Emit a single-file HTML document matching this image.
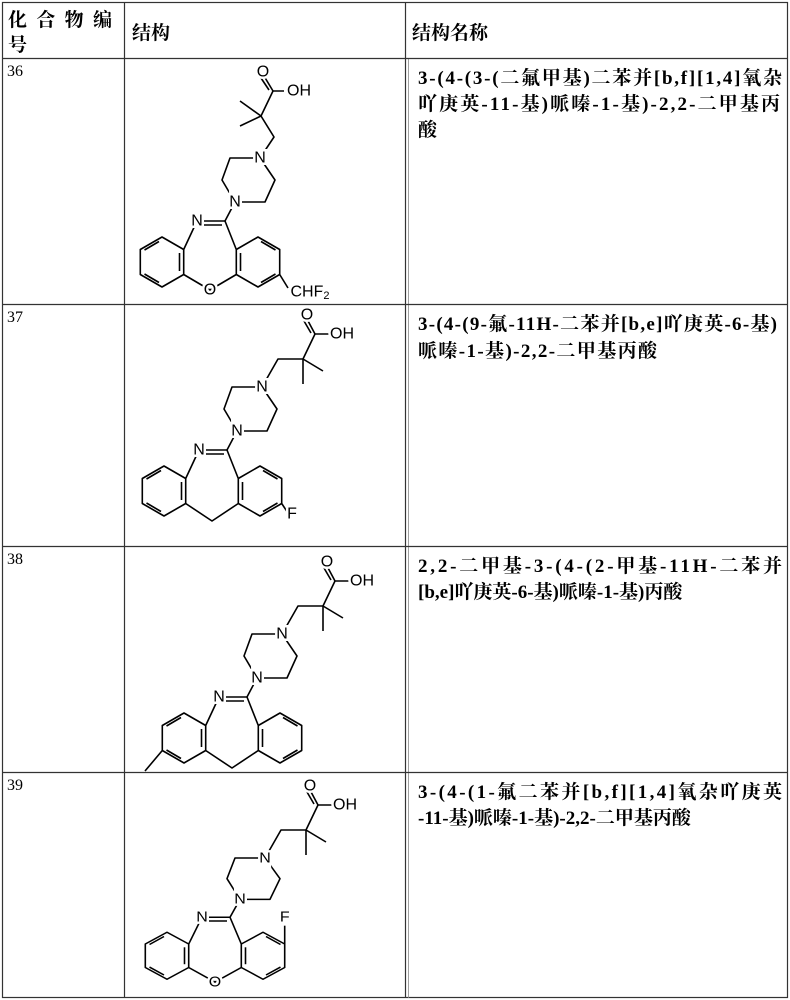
<!DOCTYPE html>
<html><head><meta charset="utf-8"><style>
html,body{margin:0;padding:0;background:#fff;}
svg{display:block}
.t{font-family:"Liberation Serif","Noto Serif CJK SC","Noto Sans CJK SC",serif;font-weight:bold;font-size:19px;fill:#000}
.n{font-family:"Liberation Serif",serif;font-size:16px;fill:#000}
.a{font-family:"Liberation Sans",sans-serif;font-size:16px;fill:#000;stroke:#fff;stroke-width:5px;paint-order:stroke;text-anchor:middle;dominant-baseline:central}
.b{stroke:#000;stroke-width:1.6;fill:none;stroke-linejoin:round}
</style></head><body>
<svg width="790" height="1000" viewBox="0 0 790 1000" xmlns="http://www.w3.org/2000/svg">
<defs>
<g id="pip">
<polyline class="b" points="0,0 -30,0 -38,22 -25,44 5,44 15,22 0,0"/>
<line class="b" x1="-25" y1="44" x2="-35" y2="63"/>
</g>
<g id="lring" transform="translate(-98,104)">
<polygon class="b" points="0,-25 21.7,-12.5 21.7,12.5 0,25 -21.7,12.5 -21.7,-12.5"/>
<line class="b" x1="17.5" y1="-9" x2="17.5" y2="9"/>
<line class="b" x1="-3" y1="20.5" x2="-17.5" y2="12"/>
<line class="b" x1="-17.5" y1="-12" x2="-3" y2="-20.5"/>
</g>
<g id="rring" transform="translate(-2,104)">
<polygon class="b" points="0,-25 21.7,-12.5 21.7,12.5 0,25 -21.7,12.5 -21.7,-12.5"/>
<line class="b" x1="-17.5" y1="-9" x2="-17.5" y2="9"/>
<line class="b" x1="3" y1="20.5" x2="17.5" y2="12"/>
<line class="b" x1="17.5" y1="-12" x2="3" y2="-20.5"/>
</g>
<g id="core">
<use href="#pip"/>
<line class="b" x1="-35" y1="63" x2="-63" y2="63"/>
<line class="b" x1="-38" y1="67" x2="-58" y2="67"/>
<line class="b" x1="-63" y1="63" x2="-76.3" y2="91.5"/>
<line class="b" x1="-35" y1="63" x2="-23.7" y2="91.5"/>
<use href="#lring"/><use href="#rring"/>
<text class="a" x="0" y="0">N</text>
<text class="a" x="-25" y="44">N</text>
<text class="a" x="-63" y="63">N</text>
</g>
<g id="obridge">
<polyline class="b" points="-76.3,116.5 -50,132 -23.7,116.5"/>
<text class="a" x="-50" y="132">O</text>
</g>
<g id="cbridge">
<polyline class="b" points="-76.3,116.5 -50,134 -23.7,116.5"/>
</g>
<g id="acidB">
<polyline class="b" points="0,0 16,-28 41,-28 53,-53 68,-53"/>
<line class="b" x1="41" y1="-28" x2="61" y2="-16"/>
<line class="b" x1="41" y1="-28" x2="41" y2="-3"/>
<line class="b" x1="53" y1="-53" x2="45" y2="-68"/>
<line class="b" x1="49" y1="-54" x2="42" y2="-66"/>
<text class="a" x="45" y="-72">O</text>
<text class="a" x="80" y="-53">OH</text>
</g>
</defs>

<!-- grid -->
<g stroke="#333" stroke-width="1.2" fill="none">
<rect x="2.5" y="2.5" width="785" height="995"/>
<line x1="124.5" y1="2" x2="124.5" y2="998"/>
<line x1="405.5" y1="2" x2="405.5" y2="998"/>
<line x1="408.5" y1="58" x2="408.5" y2="998" stroke="#888" stroke-width="0.8"/>
<line x1="2" y1="58.5" x2="788" y2="58.5"/>
<line x1="2" y1="304.5" x2="788" y2="304.5"/>
<line x1="2" y1="546.5" x2="788" y2="546.5"/>
<line x1="2" y1="772.5" x2="788" y2="772.5"/>
</g>

<!-- header -->
<text class="t" x="8" y="26" textLength="104">化合物编</text>
<text class="t" x="8" y="51">号</text>
<text class="t" x="132" y="39">结构</text>
<text class="t" x="412" y="39">结构名称</text>

<!-- numbers -->
<text class="n" x="7" y="76">36</text>
<text class="n" x="7" y="322">37</text>
<text class="n" x="7" y="564">38</text>
<text class="n" x="7" y="790">39</text>

<!-- names -->
<text class="t" x="418" y="84" textLength="364">3-(4-(3-(二氟甲基)二苯并[b,f][1,4]氧杂</text>
<text class="t" x="418" y="110" textLength="362">吖庚英-11-基)哌嗪-1-基)-2,2-二甲基丙</text>
<text class="t" x="418" y="136">酸</text>

<text class="t" x="418" y="330" textLength="359">3-(4-(9-氟-11H-二苯并[b,e]吖庚英-6-基)</text>
<text class="t" x="418" y="357" textLength="239">哌嗪-1-基)-2,2-二甲基丙酸</text>

<text class="t" x="418" y="572" textLength="364">2,2-二甲基-3-(4-(2-甲基-11H-二苯并</text>
<text class="t" x="418" y="598">[b,e]吖庚英-6-基)哌嗪-1-基)丙酸</text>

<text class="t" x="418" y="798" textLength="364">3-(4-(1-氟二苯并[b,f][1,4]氧杂吖庚英</text>
<text class="t" x="418" y="824">-11-基)哌嗪-1-基)-2,2-二甲基丙酸</text>

<!-- 36 -->
<g transform="translate(260,158)">
<polyline class="b" points="0,0 14,-21 1,-42 13,-67 24,-67"/>
<line class="b" x1="1" y1="-42" x2="-20" y2="-57"/>
<line class="b" x1="1" y1="-42" x2="-20" y2="-32"/>
<line class="b" x1="13" y1="-67" x2="4" y2="-82"/>
<line class="b" x1="9" y1="-68" x2="1" y2="-80"/>
<text class="a" x="3" y="-86">O</text>
<text class="a" x="39" y="-67">OH</text>
<use href="#core"/><use href="#obridge"/>
<line class="b" x1="19.7" y1="116.5" x2="28" y2="130"/>
<text class="a" x="50" y="134">CHF<tspan font-size="11" dy="4">2</tspan></text>
</g>

<!-- 37 -->
<g transform="translate(262,387)">
<use href="#acidB"/>
<use href="#core"/><use href="#cbridge"/>
<line class="b" x1="19.7" y1="116.5" x2="26" y2="126"/>
<text class="a" x="30" y="127">F</text>
</g>

<!-- 38 -->
<g transform="translate(282,634)">
<use href="#acidB"/>
<use href="#core"/><use href="#cbridge"/>
<line class="b" x1="-119.7" y1="116.5" x2="-137" y2="137"/>
</g>

<!-- 39 -->
<g transform="translate(265,858)">
<use href="#acidB"/>
<g transform="scale(1,0.94)">
<use href="#core"/><use href="#obridge"/>
<line class="b" x1="19.7" y1="91.5" x2="19.7" y2="72"/>
<text class="a" x="19.7" y="63">F</text>
</g>
</g>
</svg>
</body></html>
